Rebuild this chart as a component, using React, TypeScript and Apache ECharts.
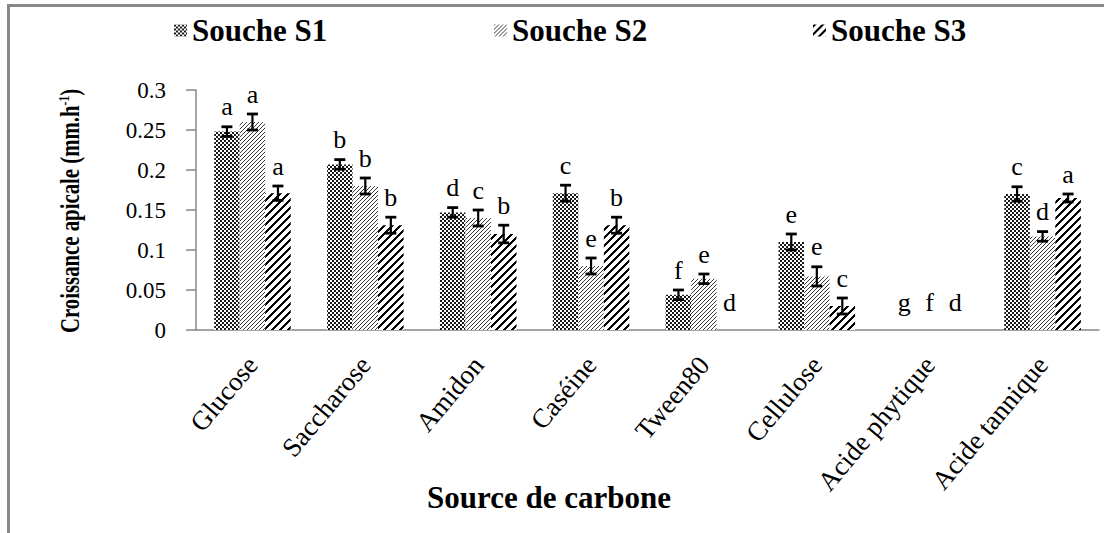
import React, { useEffect, useRef } from "react";
import * as echarts from "echarts";

const categories = ["Glucose", "Saccharose", "Amidon", "Caséine", "Tween80", "Cellulose", "Acide phytique", "Acide tannique"];
const seriesNames = ["Souche S1", "Souche S2", "Souche S3"];

const s1Values = [0.248, 0.207, 0.147, 0.171, 0.044, 0.11, 0, 0.17];
const s2Values = [0.26, 0.18, 0.14, 0.08, 0.064, 0.067, 0, 0.117];
const s3Values = [0.171, 0.131, 0.12, 0.131, 0, 0.03, 0, 0.165];

const s1Errors = [0.006, 0.006, 0.006, 0.01, 0.006, 0.01, 0, 0.009];
const s2Errors = [0.01, 0.01, 0.01, 0.01, 0.006, 0.012, 0, 0.006];
const s3Errors = [0.009, 0.01, 0.011, 0.01, 0, 0.01, 0, 0.005];

const s1Letters = ["a", "b", "d", "c", "f", "e", "g", "c"];
const s2Letters = ["a", "b", "c", "e", "e", "e", "f", "d"];
const s3Letters = ["a", "b", "b", "b", "d", "c", "d", "a"];

const yMin = 0;
const yMax = 0.3;
const yInterval = 0.05;

const yTitle = "Croissance apicale (mm.h";
const yTitleSup = "-1";
const xTitle = "Source de carbone";

const FONT = "'Liberation Serif', 'Times New Roman', serif";

function makePattern(kind: number): HTMLCanvasElement {
  const size = kind === 2 ? 8 : 4;
  const c = document.createElement("canvas");
  c.width = size;
  c.height = size;
  const ctx = c.getContext("2d")!;
  ctx.fillStyle = "#ffffff";
  ctx.fillRect(0, 0, size, size);
  ctx.fillStyle = kind === 1 ? "#3a3a3a" : kind === 0 ? "#1a1a1a" : "#000000";
  for (let x = 0; x < size; x++) {
    for (let y = 0; y < size; y++) {
      let on = false;
      if (kind === 0) on = (Math.floor(x / 2) + Math.floor(y / 2)) % 2 === 0;
      if (kind === 1) on = (x + y) % 4 === 0;
      if (kind === 2) on = (x + y) % 8 < 3;
      if (on) ctx.fillRect(x, y, 1, 1);
    }
  }
  return c;
}

export default function App() {
  const ref = useRef<HTMLDivElement>(null);
  useEffect(() => {
    if (!ref.current) return;
    const chart = echarts.init(ref.current, undefined, { renderer: "svg" });
    const values = [s1Values, s2Values, s3Values];
    const errors = [s1Errors, s2Errors, s3Errors];
    const letters = [s1Letters, s2Letters, s3Letters];
    const patterns = [0, 1, 2].map((k) => ({ image: makePattern(k), repeat: "repeat" }));
    const legendLeft = [174, 494, 813];

    const barSeries = seriesNames.map((name, k) => ({
      name,
      type: "bar",
      data: values[k],
      barWidth: "22.6%",
      barGap: "0%",
      itemStyle: { color: patterns[k] as any },
      silent: true,
      z: 2,
    }));

    const errSeries = seriesNames.map((name, k) => ({
      name: "err-" + name,
      type: "custom",
      z: 5,
      silent: true,
      data: values[k].map((v, i) => [i, v, errors[k][i]]),
      renderItem: (params: any, api: any) => {
        const i = api.value(0);
        const v = api.value(1);
        const e = api.value(2);
        const band = api.size([1, 0])[0];
        const bw = band * 0.226;
        const base = api.coord([i, v]);
        const x = base[0] + (k - 1) * bw;
        const top = api.coord([i, v + e])[1];
        const bot = api.coord([i, v - e])[1];
        const children: any[] = [];
        const ls = { stroke: "#000", lineWidth: 2.8 };
        if (e > 0) {
          children.push({ type: "line", shape: { x1: x, y1: top, x2: x, y2: bot }, style: { stroke: "#000", lineWidth: 2.2 } });
          children.push({ type: "line", shape: { x1: x - 5.5, y1: top, x2: x + 5.5, y2: top }, style: ls });
          children.push({ type: "line", shape: { x1: x - 5.5, y1: bot, x2: x + 5.5, y2: bot }, style: ls });
        }
        children.push({
          type: "text",
          style: {
            x: x,
            y: top - (v === 0 ? 15 : 7),
            text: letters[k][params.dataIndex],
            fill: "#000",
            font: "26px " + FONT,
            textAlign: "center",
            textVerticalAlign: "bottom",
          },
        });
        return { type: "group", children };
      },
    }));

    chart.setOption({
      animation: false,
      backgroundColor: "#ffffff",
      grid: { left: 196, right: 5, top: 90, bottom: 203, containLabel: false },
      title: {
        text: xTitle,
        left: 427,
        top: 482,
        padding: 0,
        textStyle: { fontFamily: FONT, fontWeight: "bold", fontSize: 31, color: "#000" },
      },
      legend: seriesNames.map((n, k) => ({
        data: [n],
        left: legendLeft[k],
        top: 15,
        padding: 0,
        itemWidth: 13,
        itemHeight: 12,
        icon: "rect",
        selectedMode: false,
        textStyle: { fontFamily: FONT, fontWeight: "bold", fontSize: 31, color: "#000" },
      })),
      xAxis: {
        type: "category",
        data: categories,
        axisLine: { lineStyle: { color: "#878787", width: 1.5 } },
        axisTick: { length: 8, lineStyle: { color: "#878787", width: 1.5 } },
        axisLabel: {
          rotate: 50,
          margin: 30,
          interval: 0,
          fontFamily: FONT,
          fontSize: 27,
          color: "#000",
        },
      },
      yAxis: {
        type: "value",
        min: yMin,
        max: yMax,
        interval: yInterval,
        splitLine: { show: false },
        axisLine: { show: true, lineStyle: { color: "#878787", width: 1.5 } },
        axisTick: { show: true, length: 10, lineStyle: { color: "#878787", width: 1.5 } },
        axisLabel: { margin: 30, fontFamily: FONT, fontSize: 23, color: "#000" },
      },
      graphic: [
        {
          type: "rect",
          silent: true,
          z: -10,
          shape: { x: 8.5, y: 5.5, width: 1300, height: 700 },
          style: { fill: "none", stroke: "#888888", lineWidth: 3 },
        },
        {
          type: "text",
          silent: true,
          x: 70,
          y: 211,
          rotation: Math.PI / 2,
          scaleX: 0.77,
          style: {
            text: "{t|" + yTitle + "}{s|" + yTitleSup + "}{t|)}",
            textAlign: "center",
            textVerticalAlign: "middle",
            rich: {
              t: { fontFamily: FONT, fontWeight: "bold", fontSize: 27, fill: "#000" },
              s: { fontFamily: FONT, fontWeight: "bold", fontSize: 15, fill: "#000", verticalAlign: "top" },
            },
          },
        },
      ],
      series: [...barSeries, ...errSeries],
    } as any);
    return () => chart.dispose();
  }, []);
  return <div ref={ref} style={{ position: "fixed", left: 0, top: 0, width: 1104, height: 533 }} />;
}
